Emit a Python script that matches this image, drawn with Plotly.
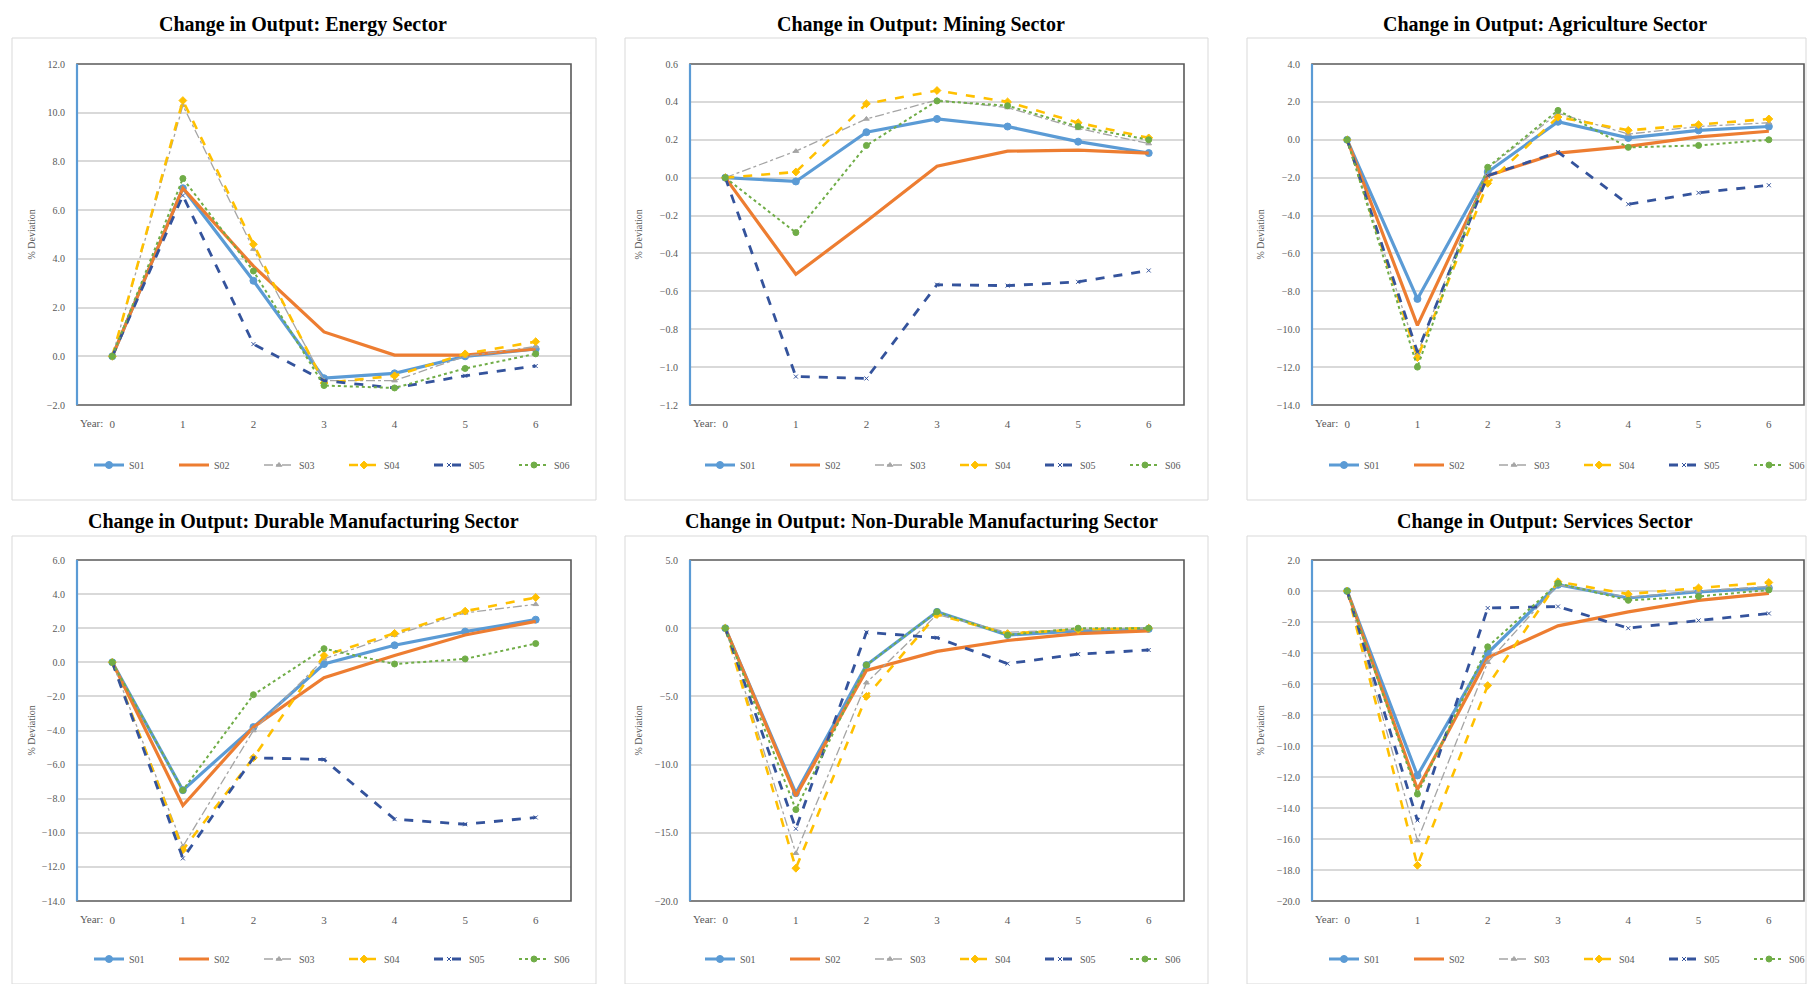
import plotly.graph_objects as go

years = [0, 1, 2, 3, 4, 5, 6]
year_labels = ["0", "1", "2", "3", "4", "5", "6"]
series = ["S01", "S02", "S03", "S04", "S05", "S06"]

energy = {
    "S01": [0, 6.9, 3.1, -0.9, -0.7, 0.0, 0.3],
    "S02": [0, 6.9, 3.7, 1.0, 0.05, 0.05, 0.3],
    "S03": [0, 10.3, 4.4, -1.0, -1.0, 0.0, 0.4],
    "S04": [0, 10.5, 4.6, -1.1, -0.8, 0.1, 0.6],
    "S05": [0, 6.6, 0.5, -1.0, -1.3, -0.8, -0.4],
    "S06": [0, 7.3, 3.5, -1.2, -1.3, -0.5, 0.1],
}
mining = {
    "S01": [0, -0.02, 0.24, 0.31, 0.27, 0.19, 0.13],
    "S02": [0, -0.51, -0.23, 0.06, 0.14, 0.145, 0.13],
    "S03": [0, 0.14, 0.31, 0.41, 0.37, 0.26, 0.18],
    "S04": [0, 0.03, 0.39, 0.46, 0.40, 0.29, 0.21],
    "S05": [0, -1.05, -1.06, -0.565, -0.57, -0.55, -0.49],
    "S06": [0, -0.29, 0.17, 0.405, 0.38, 0.27, 0.20],
}
agriculture = {
    "S01": [0, -8.4, -1.7, 0.95, 0.1, 0.5, 0.7],
    "S02": [0, -9.8, -1.9, -0.7, -0.35, 0.15, 0.45],
    "S03": [0, -11.3, -1.5, 1.4, 0.3, 0.7, 0.9],
    "S04": [0, -11.5, -2.3, 1.2, 0.5, 0.8, 1.1],
    "S05": [0, -11.2, -1.9, -0.65, -3.4, -2.8, -2.4],
    "S06": [0, -12.0, -1.45, 1.55, -0.4, -0.3, 0.0],
}
durable = {
    "S01": [0, -7.5, -3.8, -0.1, 1.0, 1.8, 2.5],
    "S02": [0, -8.4, -3.8, -0.9, 0.4, 1.6, 2.4],
    "S03": [0, -10.8, -4.0, 0.2, 1.6, 2.9, 3.4],
    "S04": [0, -11.0, -5.6, 0.4, 1.7, 3.0, 3.8],
    "S05": [0, -11.5, -5.6, -5.7, -9.2, -9.5, -9.1],
    "S06": [0, -7.5, -1.9, 0.8, -0.1, 0.2, 1.1],
}
nondurable = {
    "S01": [0, -12.1, -2.7, 1.2, -0.5, -0.2, -0.05],
    "S02": [0, -12.3, -3.1, -1.7, -0.9, -0.4, -0.2],
    "S03": [0, -16.5, -4.0, 1.0, -0.3, -0.1, 0.0],
    "S04": [0, -17.6, -5.0, 1.0, -0.4, -0.1, 0.0],
    "S05": [0, -14.7, -0.3, -0.7, -2.6, -1.9, -1.6],
    "S06": [0, -13.3, -2.7, 1.2, -0.5, 0.0, 0.0],
}
services = {
    "S01": [0, -11.9, -4.0, 0.4, -0.45, -0.05, 0.2],
    "S02": [0, -12.8, -4.3, -2.25, -1.35, -0.6, -0.15],
    "S03": [0, -16.1, -4.6, 0.4, -0.4, 0.0, 0.3],
    "S04": [0, -17.7, -6.1, 0.6, -0.2, 0.2, 0.55],
    "S05": [0, -14.8, -1.1, -1.0, -2.4, -1.9, -1.45],
    "S06": [0, -13.1, -3.6, 0.5, -0.6, -0.35, 0.07],
}

titles = [
    "Change in Output: Energy Sector",
    "Change in Output: Mining Sector",
    "Change in Output: Agriculture Sector",
    "Change in Output: Durable Manufacturing Sector",
    "Change in Output: Non-Durable Manufacturing Sector",
    "Change in Output: Services Sector",
]
datasets = [energy, mining, agriculture, durable, nondurable, services]
yranges = [[-2, 12], [-1.2, 0.6], [-14, 4], [-14, 6], [-20, 5], [-20, 2]]
ydticks = [2, 0.2, 2, 2, 5, 2]

styles = {
    "S01": dict(color="#5B9BD5", width=3.2, dash="solid", mode="lines+markers", symbol="circle", size=7),
    "S02": dict(color="#ED7D31", width=3.2, dash="solid", mode="lines", symbol="circle", size=1),
    "S03": dict(color="#A5A5A5", width=1.3, dash="dashdot", mode="lines+markers", symbol="triangle-up", size=5),
    "S04": dict(color="#FFC000", width=2.6, dash="dash", mode="lines+markers", symbol="diamond", size=6),
    "S05": dict(color="#34539C", width=2.8, dash="dash", mode="lines+markers", symbol="x-thin-open", size=4),
    "S06": dict(color="#70AD47", width=2.0, dash="dot", mode="lines+markers", symbol="circle", size=6),
}

# page has an 8px body margin; figure is sized to fit within the window
OFF = 8
W, H = 1800, 976
FONT = "Liberation Serif"

# pixel geometry in window coordinates
col_frames = [(77, 571), (690, 1184), (1312, 1804)]
row_frames = [(64, 405), (560, 901)]
col_boxes = [(12, 596), (625, 1208), (1247, 1806)]
row_boxes = [(38, 500), (536, 984)]
title_x = [303, 921, 1545]
title_y = [24, 521]
ytitle_x = [31, 638, 1260]
legend_x = [344, 955, 1579]
legend_y = [465, 959]

def px(x):
    return (x - OFF) / W

def py(y):
    return 1 - (y - OFF) / H

fig = go.Figure()
layout = dict(
    width=W, height=H, margin=dict(l=0, r=0, t=0, b=0, autoexpand=False),
    paper_bgcolor="white", plot_bgcolor="white",
    font=dict(family=FONT, color="#595959"),
    annotations=[], shapes=[],
)

for i in range(6):
    k = i + 1
    r, c = divmod(i, 3)
    xa = "x" if k == 1 else f"x{k}"
    ya = "y" if k == 1 else f"y{k}"
    lg = "legend" if k == 1 else f"legend{k}"
    data = datasets[i]
    for s in series:
        st = styles[s]
        fig.add_trace(go.Scatter(
            x=years, y=data[s], name=s, xaxis=xa, yaxis=ya, legend=lg,
            mode=st["mode"],
            line=dict(color=st["color"], width=st["width"], dash=st["dash"]),
            marker=dict(symbol=st["symbol"], size=st["size"], color=st["color"],
                        line=dict(color=st["color"], width=1)),
        ))
    x0, x1 = col_frames[c]
    y0, y1 = row_frames[r]
    layout["xaxis" if k == 1 else f"xaxis{k}"] = dict(
        domain=[px(x0), px(x1)], anchor=ya, range=[-0.5, 6.5],
        tickvals=years, ticktext=year_labels, showgrid=False, zeroline=False,
        showline=False, ticks="outside", ticklen=9, tickcolor="rgba(0,0,0,0)",
        tickfont=dict(size=11, color="#595959", family=FONT), automargin=False,
    )
    layout["yaxis" if k == 1 else f"yaxis{k}"] = dict(
        domain=[py(y1), py(y0)], anchor=xa, range=yranges[i],
        tick0=yranges[i][0], dtick=ydticks[i], tickformat=".1f",
        showgrid=True, gridcolor="#D9D9D9", gridwidth=1.6, zeroline=False,
        showline=False, ticks="outside", ticklen=9, tickcolor="rgba(0,0,0,0)",
        tickfont=dict(size=10, color="#595959", family=FONT), automargin=False,
    )
    layout[lg] = dict(
        orientation="h", x=px(legend_x[c]), y=py(legend_y[r]),
        xanchor="center", yanchor="middle", bgcolor="rgba(0,0,0,0)",
        font=dict(size=10, color="#595959", family=FONT),
        itemwidth=30, entrywidth=40, entrywidthmode="pixels",
        traceorder="normal",
    )
    # outer chart box
    bx0, bx1 = col_boxes[c]
    by0, by1 = row_boxes[r]
    layout["shapes"].append(dict(type="rect", xref="paper", yref="paper",
                                 x0=px(bx0), x1=px(bx1), y0=py(by1), y1=py(by0),
                                 line=dict(color="#D9D9D9", width=1), layer="below"))
    # plot frame
    dx = "x domain" if k == 1 else f"x{k} domain"
    dy = "y domain" if k == 1 else f"y{k} domain"
    layout["shapes"].append(dict(type="rect", xref=dx, yref=dy, x0=0, x1=1, y0=0, y1=1,
                                 line=dict(color="#595959", width=1.6), layer="above"))
    layout["shapes"].append(dict(type="line", xref=dx, yref=dy, x0=0, x1=0, y0=0, y1=1,
                                 line=dict(color="#5B9BD5", width=2.2), layer="above"))
    # title
    layout["annotations"].append(dict(
        text=f"<b>{titles[i]}</b>", xref="paper", yref="paper",
        x=px(title_x[c]), y=py(title_y[r]), xanchor="center", yanchor="middle",
        showarrow=False, font=dict(size=20, color="black", family=FONT)))
    # y axis title
    layout["annotations"].append(dict(
        text="% Deviation", xref="paper", yref="paper", textangle=-90,
        x=px(ytitle_x[c]), y=py((y0 + y1) / 2), xanchor="center", yanchor="middle",
        showarrow=False, font=dict(size=10, color="#595959", family=FONT)))
    # "Year" label left of first category
    layout["annotations"].append(dict(
        text="Year:", xref=xa, yref=dy, x=0, y=0, xshift=-7, yshift=-18,
        xanchor="right", yanchor="middle", showarrow=False,
        font=dict(size=11, color="#595959", family=FONT)))

fig.update_layout(**layout)
fig.write_html("out.html")
